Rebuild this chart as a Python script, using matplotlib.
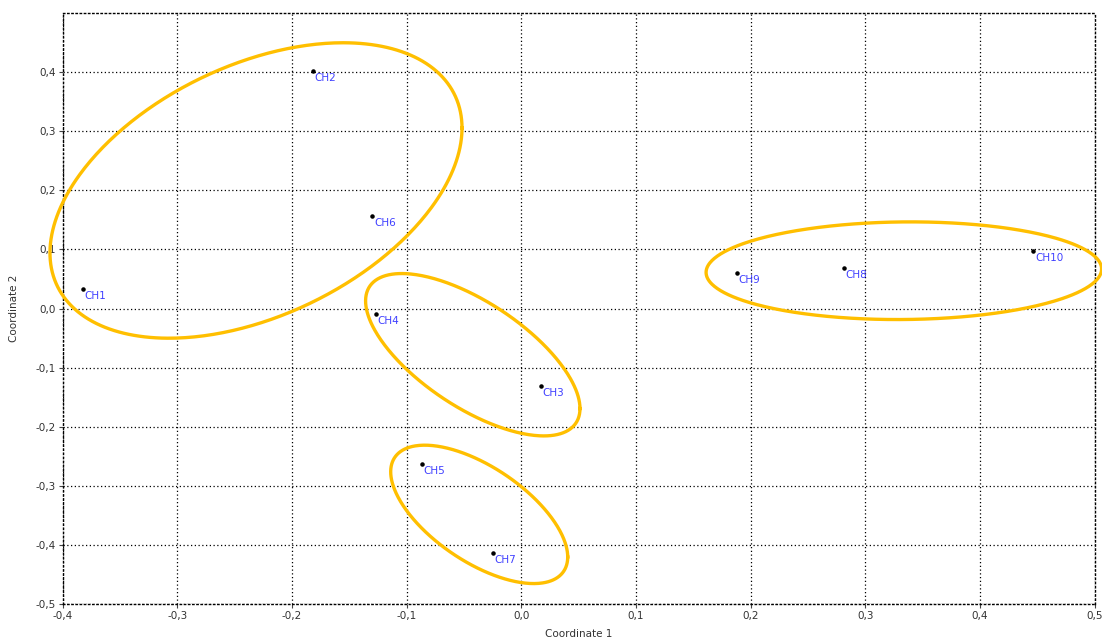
import numpy as np
import matplotlib
matplotlib.use("Agg")
import matplotlib.pyplot as plt
from matplotlib.ticker import FuncFormatter, MultipleLocator

# ---- data ----
labels = ["CH1", "CH2", "CH3", "CH4", "CH5", "CH6", "CH7", "CH8", "CH9", "CH10"]
coord1 = [-0.3826, -0.1819, 0.0172, -0.1270, -0.0866, -0.1299, -0.0246, 0.2813, 0.1882, 0.4467]
coord2 = [0.0332, 0.4024, -0.1311, -0.0097, -0.2642, 0.1563, -0.4140, 0.0678, 0.0603, 0.0976]

# group ellipses: centre, half-extent along x, half-extent along y, phase (deg)
ell_cx = [-0.2314, -0.0423, -0.0367, 0.3337]
ell_cy = [0.1999, -0.0783, -0.3487, 0.0640]
ell_rx = [0.1797, 0.0935, 0.0772, 0.1725]
ell_ry = [0.2502, 0.1375, 0.1172, 0.0827]
ell_phase = [65.0, 131.5, 128.0, 88.0]

xticks = [-0.4, -0.3, -0.2, -0.1, 0.0, 0.1, 0.2, 0.3, 0.4, 0.5]
yticks = [-0.5, -0.4, -0.3, -0.2, -0.1, 0.0, 0.1, 0.2, 0.3, 0.4]

# ---- figure ----
W, H = 1102, 641
fig = plt.figure(figsize=(W / 100, H / 100), dpi=100)
ax = fig.add_axes([62.7 / W, 1 - 603.7 / H, (1094.5 - 62.7) / W, (603.7 - 13.3) / H])
ax.set_xlim(-0.4, 0.5)
ax.set_ylim(-0.5, 0.5)

dot = (0, (1, 2))
ax.set_xticks(xticks)
ax.set_yticks(yticks)
ax.grid(True, color="black", linestyle=dot, linewidth=0.9)
for s in ax.spines.values():
    s.set_linestyle(dot)
    s.set_linewidth(1.0)
    s.set_color("black")

fmt = FuncFormatter(lambda v, p: f"{v:.1f}".replace(".", ",").replace("-0,0", "0,0"))
ax.xaxis.set_major_formatter(fmt)
ax.yaxis.set_major_formatter(fmt)
ax.tick_params(axis="both", direction="out", length=3, width=0.8, color="#444444",
               labelsize=7.5, labelcolor="#333333", pad=2)

ax.set_xlabel("Coordinate 1", fontsize=7.5, color="#333333", labelpad=6)
ax.set_ylabel("Coordinate 2", fontsize=7.5, color="#333333", labelpad=12)

# ellipses
t = np.linspace(0, 2 * np.pi, 400)
for cx, cy, rx, ry, ph in zip(ell_cx, ell_cy, ell_rx, ell_ry, ell_phase):
    ex = cx + rx * np.cos(t)
    ey = cy + ry * np.cos(t - np.radians(ph))
    ax.plot(ex, ey, color="#FFBF00", linewidth=2.4, clip_on=False, zorder=3)

# points
ax.scatter(coord1, coord2, s=5, color="black", zorder=4)
for lab, x, y in zip(labels, coord1, coord2):
    ax.annotate(lab, (x, y), xytext=(1.2, -1.2), textcoords="offset points",
                ha="left", va="top", fontsize=7.5, color="#4040FF", zorder=5)

fig.savefig("out.png", dpi=100)
